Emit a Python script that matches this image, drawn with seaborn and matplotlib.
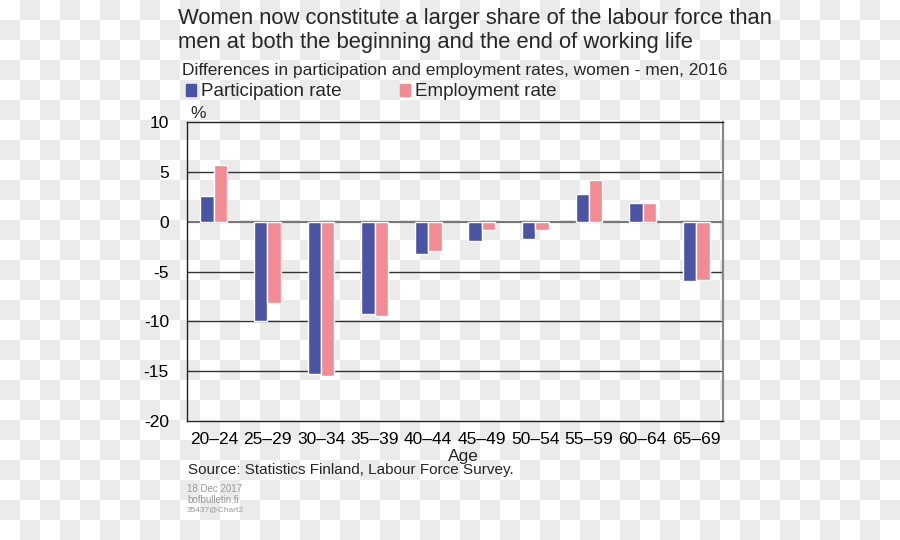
import numpy as np
import pandas as pd
import matplotlib.pyplot as plt
import seaborn as sns
from matplotlib.patches import Patch

ages = ["20–24", "25–29", "30–34", "35–39", "40–44",
        "45–49", "50–54", "55–59", "60–64", "65–69"]
participation = [2.6, -10.0, -15.3, -9.3, -3.2, -1.9, -1.7, 2.8, 1.9, -6.0]
employment = [5.7, -8.2, -15.5, -9.5, -2.9, -0.8, -0.8, 4.2, 1.9, -5.9]
series = ["Participation rate", "Employment rate"]
colors = ["#4b53a4", "#f28b94"]

df = pd.DataFrame({
    "age": ages * 2,
    "value": participation + employment,
    "series": [series[0]] * len(ages) + [series[1]] * len(ages),
})

sns.set_style("white")
plt.rcParams["font.family"] = ["Liberation Sans", "DejaVu Sans"]
plt.rcParams["axes.unicode_minus"] = False

fig = plt.figure(figsize=(9, 5.4), dpi=100)

# checkered background like the reference image
h, w = 540, 900
yy, xx = np.mgrid[0:h, 0:w]
cells = ((xx // 20) + (yy // 20)) % 2
bg = np.where(cells[..., None] == 1, 235, 255).repeat(3, axis=2).astype(np.uint8)
fig.figimage(bg, xo=0, yo=0, zorder=-10, origin="upper")
fig.patch.set_alpha(0)

ax = fig.add_axes([187 / 900, 1 - 421 / 540, 536 / 900, 299 / 540])
ax.set_facecolor("none")

sns.barplot(data=df, x="age", y="value", hue="series", palette=colors,
            saturation=1, width=0.5, legend=False, ax=ax)

ax.set_ylim(-20, 10)
ax.set_yticks([-20, -15, -10, -5, 0, 5, 10])
ax.set_xlim(-0.5, len(ages) - 0.5)
for v in [-15, -10, -5, 0, 5]:
    ax.axhline(v, color="#333333" if v != 0 else "#777777",
               lw=1.0 if v != 0 else 1.6, zorder=0.5)
for s in ["left", "top", "bottom"]:
    ax.spines[s].set_color("#222222")
    ax.spines[s].set_linewidth(1.0)
ax.spines["right"].set_color("#888888")
ax.spines["right"].set_linewidth(1.6)
ax.tick_params(axis="x", length=0, labelsize=12.5, colors="black", pad=8)
ax.tick_params(axis="y", length=0, labelsize=12.5, colors="black", pad=13)
ax.set_xlabel("Age", fontsize=12.5)
ax.xaxis.set_label_coords(0.515, -0.095)
ax.set_ylabel("")

fig.text(178 / 900, 1 - 8 / 540,
         "Women now constitute a larger share of the labour force than\n"
         "men at both the beginning and the end of working life",
         fontsize=15.8, va="top", ha="left", linespacing=1.2)
fig.text(182 / 900, 1 - 71 / 540,
         "Differences in participation and employment rates, women - men, 2016",
         fontsize=12.5, va="center", ha="left")
handles = [Patch(color=c, label=s) for c, s in zip(colors, series)]
fig.legend(handles=handles, loc="center left", bbox_to_anchor=(186 / 900, 1 - 92 / 540),
           ncol=2, frameon=False, fontsize=13.5, handlelength=0.55, handleheight=0.55,
           handletextpad=0.25, columnspacing=3.1, borderaxespad=0, borderpad=0)
fig.text(190 / 900, 1 - 113 / 540, "%", fontsize=12.5, va="center", ha="left")
fig.text(188 / 900, 1 - 470 / 540, "Source: Statistics Finland, Labour Force Survey.",
         fontsize=11, va="center", ha="left")
fig.text(187 / 900, 1 - 489 / 540, "18 Dec 2017", fontsize=7, color="#999999",
         va="center", ha="left")
fig.text(187 / 900, 1 - 500 / 540, "bofbulletin.fi", fontsize=7, color="#999999",
         va="center", ha="left")
fig.text(187 / 900, 1 - 510 / 540, "35437@Chart2", fontsize=6, color="#999999",
         va="center", ha="left")

fig.savefig("out.png", dpi=100)
